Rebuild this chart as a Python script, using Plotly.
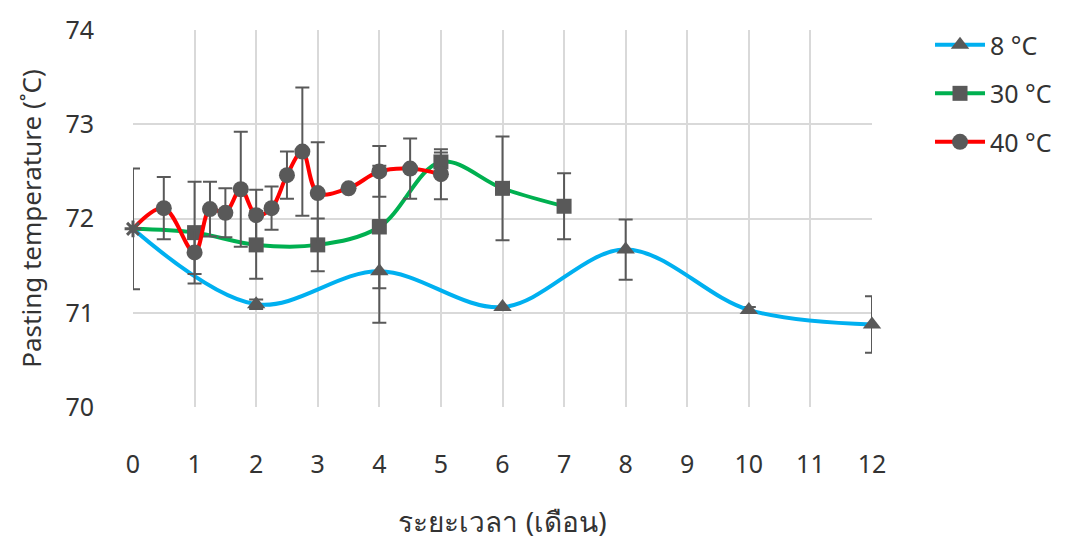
import plotly.graph_objects as go

# ---- data ----
start_x = [0]
start_y = [71.89]
start_err = [0.64]

x_8 = [0, 2, 4, 6, 8, 10, 12]
y_8 = [71.89, 71.09, 71.44, 71.06, 71.67, 71.03, 70.875]
e_8 = [0, 0.05, 0.545, 0.0, 0.32, 0.03, 0.30]

x_30 = [0, 1, 2, 3, 4, 5, 6, 7]
y_30 = [71.89, 71.85, 71.72, 71.72, 71.91, 72.60, 72.32, 72.13]
e_30 = [0, 0.54, 0.36, 0.28, 0.65, 0.10, 0.55, 0.35]

x_40 = [0, 0.5, 1, 1.25, 1.5, 1.75, 2, 2.25, 2.5, 2.75, 3, 3.5, 4, 4.5, 5]
y_40 = [71.89, 72.11, 71.64, 72.10, 72.06, 72.31, 72.035, 72.11, 72.46, 72.71,
        72.27, 72.32, 72.50, 72.53, 72.47]
e_40 = [0, 0.33, 0.23, 0.29, 0.26, 0.61, 0.27, 0.23, 0.25, 0.68, 0.54, 0.0,
        0.27, 0.32, 0.265]

names = ["8 °C", "30 °C", "40 °C"]
x_ticks = list(range(0, 13))
y_ticks = [70, 71, 72, 73, 74]

MARK = "#595959"
FONT = "Noto Sans, Open Sans, sans-serif"
TXT = "#333333"

series = [
    (x_8, y_8, e_8, names[0], "#00B0F0", "triangle-up", 16),
    (x_30, y_30, e_30, names[1], "#00B050", "square", 15),
    (x_40, y_40, e_40, names[2], "#FF0000", "circle", 16),
]

fig = go.Figure()
for i, (xs, ys, es, nm, col, sym, sz) in enumerate(series):
    # reverse order so the legend picks a visible (non-start) marker
    xr = xs[::-1]
    yr = ys[::-1]
    er = es[::-1]
    colors = [MARK if x != 0 else "rgba(0,0,0,0)" for x in xr]
    fig.add_trace(go.Scatter(
        x=xr, y=yr, name=nm, mode="lines+markers", cliponaxis=False,
        line=dict(color=col, width=4, shape="spline", smoothing=1),
        marker=dict(symbol=sym, size=sz, color=colors),
        error_y=dict(type="data", array=er, visible=True, color=MARK,
                     thickness=2, width=7),
        legendgroup=f"g{i}",
    ))

fig.add_trace(go.Scatter(
    x=start_x, y=start_y, mode="markers", showlegend=False, cliponaxis=False,
    marker=dict(symbol="asterisk-open", size=14, color=MARK,
                line=dict(color=MARK, width=3)),
    error_y=dict(type="data", array=start_err, visible=True, color=MARK,
                 thickness=2, width=7),
))

# page body has an 8px margin, so the figure is sized/positioned to compensate
fig.update_layout(
    width=1059, height=532,
    margin=dict(l=125, r=195, t=22, b=133, autoexpand=False),
    plot_bgcolor="white", paper_bgcolor="white",
    font=dict(family=FONT, size=24, color=TXT),
    legend=dict(x=1.0785, y=1.021, xanchor="left", yanchor="top",
                font=dict(size=25, color=TXT), tracegroupgap=13,
                itemwidth=50, bgcolor="rgba(0,0,0,0)"),
)
fig.update_xaxes(
    range=[0, 12], tickvals=x_ticks, ticktext=[str(t) for t in x_ticks],
    showgrid=True, gridcolor="#d9d9d9", gridwidth=1.5, zeroline=False,
    showline=False, ticks="", ticklabelstandoff=40, automargin=False,
    tickfont=dict(size=25, color=TXT),
    title=dict(text="ระยะเวลา (เดือน)", font=dict(size=28, color=TXT), standoff=45),
)
fig.update_yaxes(
    range=[70, 74], tickvals=y_ticks, ticktext=[str(t) for t in y_ticks],
    showgrid=True, gridcolor="#d9d9d9", gridwidth=1.5, zeroline=False,
    showline=False, ticks="", ticklabelstandoff=38, automargin=False,
    tickfont=dict(size=25, color=TXT),
    title=dict(text="Pasting temperature (˚C)", font=dict(size=26, color=TXT), standoff=16),
)

fig.write_html("out.html")
